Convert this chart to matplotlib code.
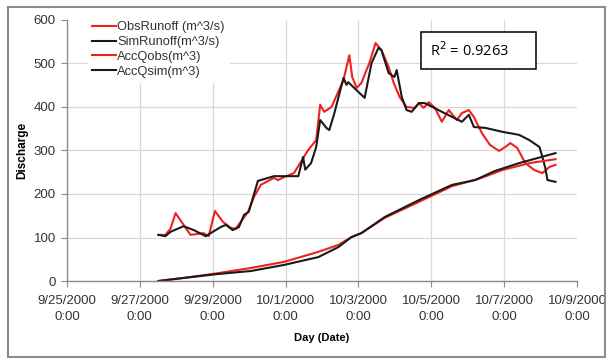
import matplotlib
matplotlib.use("Agg")
import matplotlib.pyplot as plt
import pandas as pd
from matplotlib.patches import Rectangle

plt.rcParams['font.family'] = ['Liberation Sans', 'DejaVu Sans']

start = pd.Timestamp("2000-09-25 00:00")

# days since 9/25/2000 0:00 and values
obs_days = [2.51, 2.70, 2.84, 2.98, 3.39, 3.75, 3.89, 4.06, 4.28, 4.50, 4.63, 4.77, 4.97,
            5.13, 5.32, 5.68, 5.79, 5.96, 6.23, 6.62, 6.84, 6.95, 7.06, 7.26, 7.59, 7.75,
            7.83, 7.95, 8.08, 8.30, 8.47, 8.63, 8.83, 8.97, 9.13, 9.32, 9.55, 9.66, 9.79,
            9.93, 10.10, 10.29, 10.48, 10.70, 10.84, 11.03, 11.17, 11.39, 11.61, 11.86,
            12.03, 12.17, 12.36, 12.58, 12.83, 13.05, 13.24, 13.41]
obs_runoff = [106, 106, 120, 156, 106, 110, 103, 161, 136, 122, 120, 136, 159,
              193, 221, 237, 232, 239, 248, 301, 324, 405, 389, 400, 462, 519,
              469, 444, 455, 501, 547, 531, 492, 455, 423, 400, 398, 409, 398,
              411, 398, 366, 393, 370, 386, 393, 377, 340, 313, 299,
              308, 317, 306, 271, 255, 248, 262, 267]

sim_days = [2.51, 2.70, 2.84, 3.20, 3.48, 3.81, 4.00, 4.22, 4.36, 4.55, 4.72, 4.86, 4.99,
            5.24, 5.52, 5.68, 6.35, 6.48, 6.54, 6.70, 6.84, 6.95, 7.12, 7.20, 7.34, 7.59,
            7.67, 7.72, 8.17, 8.36, 8.55, 8.63, 8.83, 8.99, 9.05, 9.19, 9.32, 9.46, 9.66,
            9.82, 10.29, 10.84, 11.03, 11.17, 11.48, 11.95, 12.41, 12.69, 12.97, 13.05,
            13.13, 13.19, 13.41]
sim_runoff = [106, 103, 113, 126, 117, 103, 113, 124, 129, 117, 124, 152, 159,
              230, 237, 241, 241, 285, 256, 271, 308, 370, 352, 347, 386, 467,
              451, 457, 421, 501, 536, 531, 478, 469, 485, 423, 393, 389, 409,
              409, 389, 366, 382, 354, 352, 343, 336, 324, 308, 285,
              260, 232, 228]

accobs_days = [2.51, 3.20, 4.14, 5.05, 5.96, 6.90, 7.45, 7.81, 8.08, 8.72, 9.66, 10.57,
               11.31, 11.95, 12.69, 13.41]
acc_qobs = [0, 7, 18, 30, 44, 67, 83, 101, 110, 145, 182, 218, 235, 255, 271, 280]

accsim_days = [2.51, 3.20, 4.14, 5.05, 5.96, 6.90, 7.45, 7.81, 8.08, 8.72, 9.66, 10.57,
               11.20, 11.75, 12.41, 13.41]
acc_qsim = [0, 7, 16, 23, 37, 55, 78, 101, 110, 147, 186, 221, 232, 253, 271, 294]

tick_dates = ["2000-09-25", "2000-09-27", "2000-09-29", "2000-10-01", "2000-10-03",
              "2000-10-05", "2000-10-07", "2000-10-09"]
tick_labels = ["9/25/2000\n0:00", "9/27/2000\n0:00", "9/29/2000\n0:00", "10/1/2000\n0:00",
               "10/3/2000\n0:00", "10/5/2000\n0:00", "10/7/2000\n0:00", "10/9/2000\n0:00"]
y_ticks = [0, 100, 200, 300, 400, 500, 600]


def to_dates(days):
    return [start + pd.Timedelta(days=d) for d in days]


fig = plt.figure(figsize=(6.07, 3.58), dpi=100)
ax = fig.add_axes([67/607, 77/358, 510/607, 261/358])

red = '#f0201e'
blk = '#1a1a1a'
lw = 1.5
ax.plot(to_dates(obs_days), obs_runoff, color=red, lw=lw, label='ObsRunoff (m^3/s)')
ax.plot(to_dates(sim_days), sim_runoff, color=blk, lw=lw, label='SimRunoff(m^3/s)')
ax.plot(to_dates(accobs_days), acc_qobs, color=red, lw=lw, label='AccQobs(m^3)')
ax.plot(to_dates(accsim_days), acc_qsim, color=blk, lw=lw, label='AccQsim(m^3)')

tds = pd.to_datetime(tick_dates)
ax.set_xlim(tds[0], tds[-1])
ax.set_xticks(tds)
ax.set_xticklabels(tick_labels, fontsize=9.5, color='#333333', linespacing=1.45)
ax.set_ylim(0, 600)
ax.set_yticks(y_ticks)
ax.set_yticklabels([str(v) for v in y_ticks], fontsize=9.5, color='#333333')

ax.grid(True, color='#d8d8d8', lw=0.9)
ax.set_axisbelow(True)
ax.yaxis.get_gridlines()[-1].set_visible(False)
ax.xaxis.get_gridlines()[-1].set_visible(False)
ax.xaxis.get_gridlines()[0].set_visible(False)

for s in ['top', 'right']:
    ax.spines[s].set_visible(False)
for s in ['left', 'bottom']:
    ax.spines[s].set_color('#8c8c8c')
    ax.spines[s].set_linewidth(1.0)
ax.tick_params(axis='x', length=4, color='#8c8c8c', pad=6)
ax.tick_params(axis='y', length=4, color='#8c8c8c', pad=4)

ax.set_xlabel('Day (Date)', fontsize=8, fontweight='bold')
ax.xaxis.set_label_coords(0.5, -0.2)
ax.set_ylabel('Discharge', fontsize=8.5, fontweight='bold', va='center')
ax.yaxis.set_label_coords(-0.088, 0.5)

leg = ax.legend(loc='upper left', bbox_to_anchor=(0.028, 1.035), fontsize=9.3, frameon=True,
                handlelength=1.9, handletextpad=0.1, labelspacing=0.22, borderpad=0.3,
                fancybox=False)
leg.get_frame().set_edgecolor('white')
leg.get_frame().set_facecolor('white')
leg.get_frame().set_alpha(1)
for t in leg.get_texts():
    t.set_color('#333333')

# R^2 box
fig.patches.append(Rectangle((421/607, 1 - 69/358), 115/607, 37/358, transform=fig.transFigure,
                             fill=True, facecolor='white', edgecolor='black', lw=1.1))
fig.text(430/607, 1 - 51/358, r'R$^2$ = 0.9263', fontsize=10.5, ha='left', va='center',
         family=['Open Sans', 'DejaVu Sans'])

# outer frame
fig.patches.append(Rectangle((8/607, 1/358), 597/607, 350/358, transform=fig.transFigure,
                             fill=False, edgecolor='#8c8c8c', lw=1.5))

fig.savefig('out.png', dpi=100)
